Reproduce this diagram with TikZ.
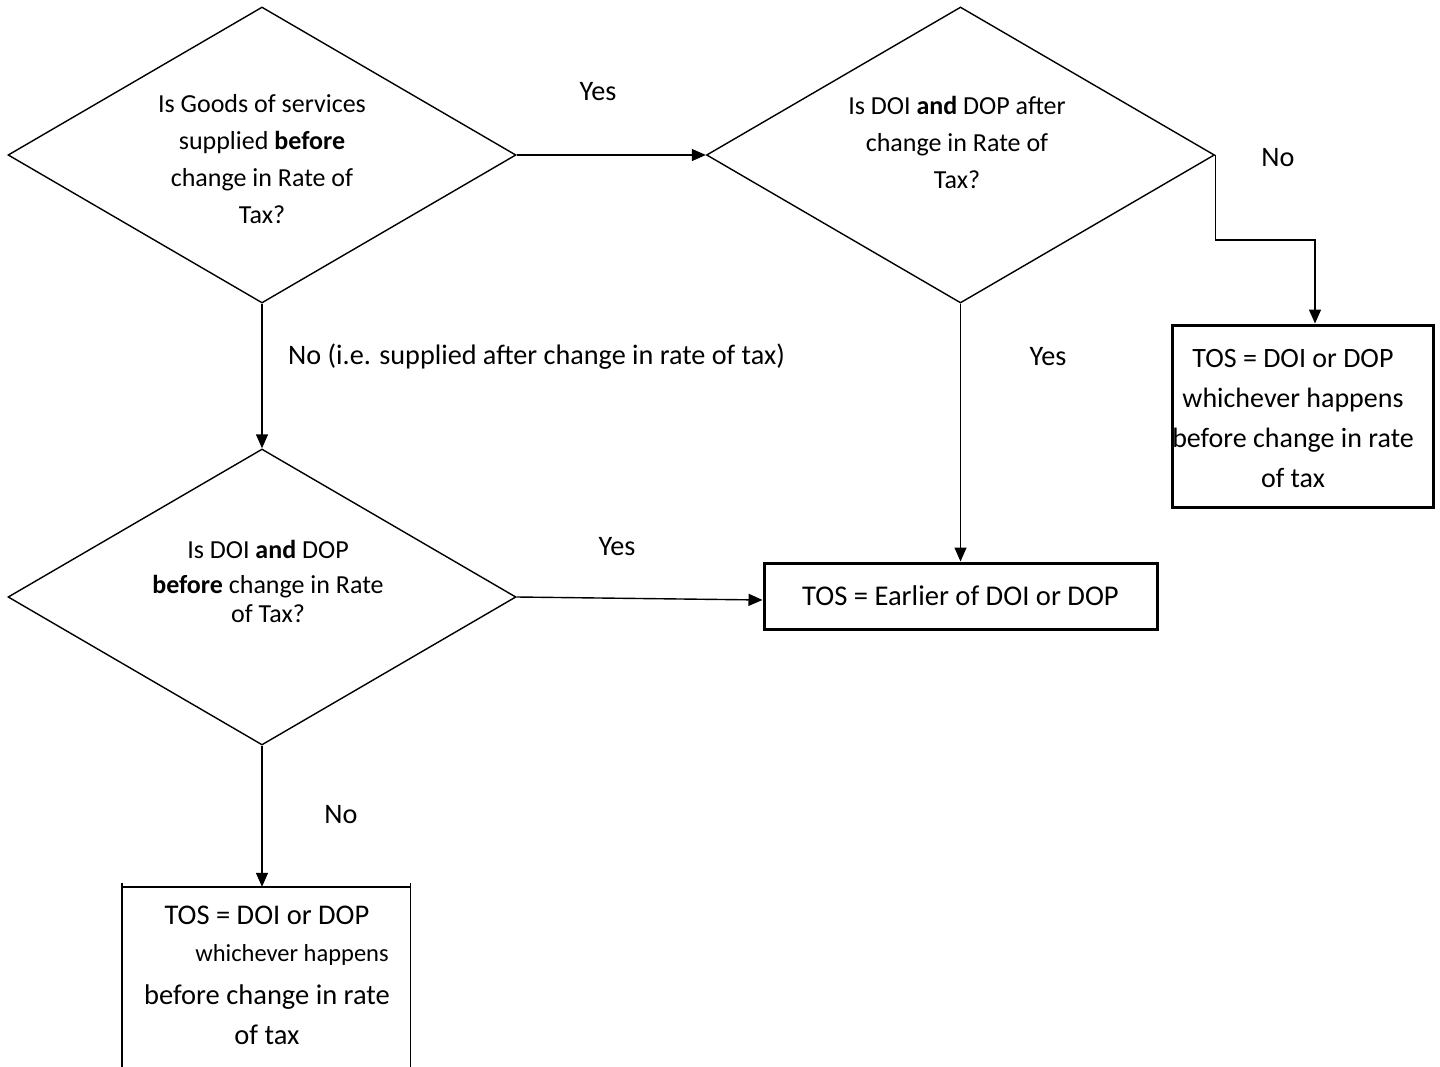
\documentclass[tikz,border=0pt]{standalone}
\usepackage{fontspec}
\setmainfont{Carlito}
\usetikzlibrary{arrows.meta,shapes.geometric}
\begin{document}
\begin{tikzpicture}[x=1pt,y=-1pt,
  dia/.style={diamond, draw, line width=1.4pt, minimum width=508pt,
    minimum height=296pt, inner sep=0pt, aspect=1.7},
  qtext/.style={align=center, inner sep=0pt, font=\fontsize{26}{37}\selectfont},
  thickbox/.style={draw, line width=3pt, inner sep=0pt, align=center},
  thinline/.style={line width=1.4pt},
  lbl/.style={inner sep=0pt, font=\fontsize{28.2}{32}\selectfont},
  arr/.style={line width=1.4pt, -{Triangle[length=14pt,width=12pt]}}
]
\useasboundingbox (0,0) rectangle (1440,1067);
\fill[white] (0,0) rectangle (1440,1067);
\clip (0,0) rectangle (1440,1067);

% decision diamonds
\node[dia] (d1) at (262,155) {};
\node[dia] (d2) at (960.5,155) {};
\node[dia] (d3) at (262,597) {};

\node[qtext] (t1) at (262,159) {Is Goods of services\\ supplied \textbf{before}\\ change in Rate of\\ Tax?};
\node[qtext] (t2) at (957,142) {Is DOI \textbf{and} DOP after\\ change in Rate of\\ Tax?};
\node[qtext] (t3) at (268,581) {Is DOI \textbf{and} DOP\\[-2pt] \textbf{before} change in Rate\\[-8pt] of Tax?};

% outcome boxes
\node[thickbox, minimum width=261pt, minimum height=182pt,
  font=\fontsize{28}{40}\selectfont] (b1) at (1302.5,416) {};
\node[align=center, inner sep=0pt, font=\fontsize{28}{40}\selectfont] (t5) at (1293,419)
  {TOS = DOI or DOP\\ whichever happens\\ before change in rate\\ of tax};
\node[thickbox, minimum width=393pt, minimum height=66pt,
  font=\fontsize{28.6}{34}\selectfont] (b2) at (960.5,596) {TOS = Earlier of DOI or DOP};

% open-bottomed box, its sides standing a little above the top edge
\node[minimum width=288pt, minimum height=220pt, inner sep=0pt] (b3) at (266,997) {};
\draw[thinline] (b3.north west) -- (b3.north east);
\draw[thinline] ([yshift=4pt]b3.north west) -- (b3.south west);
\draw[thinline] ([yshift=4pt]b3.north east) -- (b3.south east);
\node[align=center, inner sep=0pt, font=\fontsize{28.5}{40}\selectfont, anchor=north] (t4) at (267,906)
  {TOS = DOI or DOP\\[-3pt] \hspace*{50pt}{\fontsize{24.5}{28}\selectfont whichever happens}\\[3pt] before change in rate\\ of tax};

% connectors
\coordinate (k1) at (1315,240);
\draw[arr] (d1.east) -- (d2.west);
\draw[arr] (d1.south) -- (d3.north);
\draw[arr] (d2.east) |- (k1) -- (k1 |- b1.north);
\draw[arr] (d2.south) -- (d2.south |- b2.north);
\draw[arr] (d3.east) -- ([yshift=-4pt]b2.west);
\draw[arr] (d3.south) -- (d3.south |- b3.north);

% branch labels
\node[lbl] (l1) at (598,92) {Yes};
\node[lbl, anchor=west] (l2) at (288,357) {No (i.e. supplied after change in rate of tax)};
\node[lbl] (l3) at (1278,158) {No};
\node[lbl] (l4) at (1048,357) {Yes};
\node[lbl] (l5) at (617,547) {Yes};
\node[lbl] (l6) at (341,815) {No};
\end{tikzpicture}
\end{document}
